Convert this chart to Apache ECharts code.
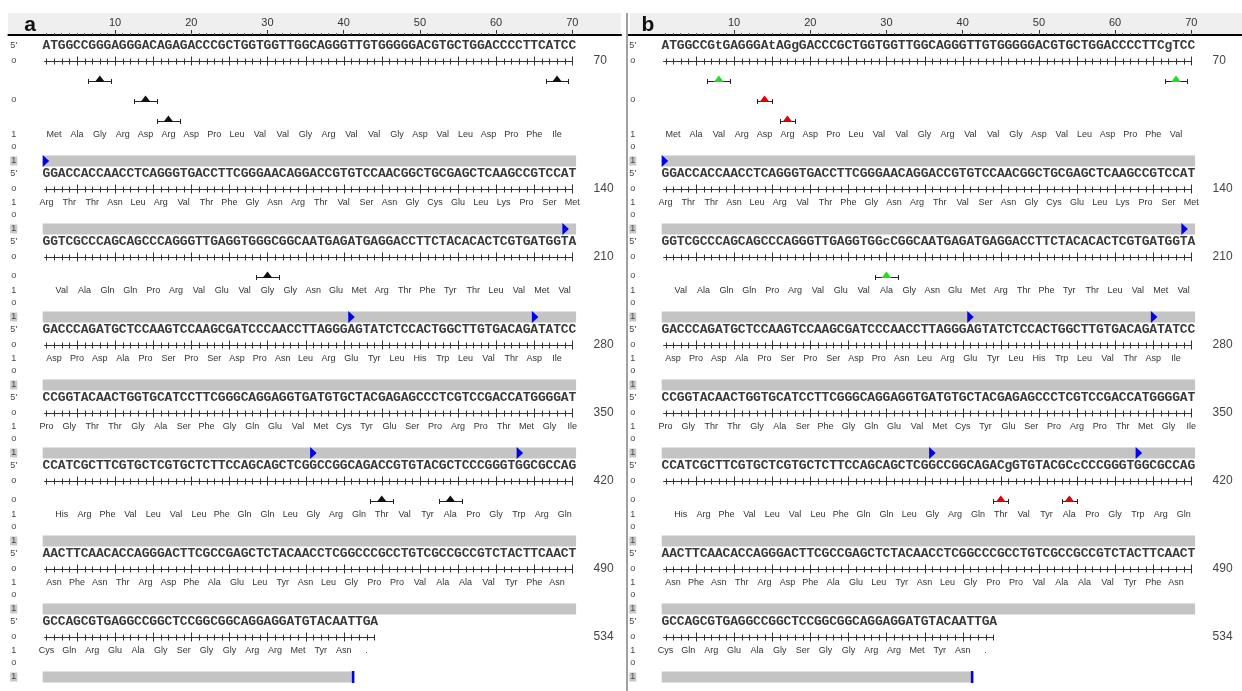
<!DOCTYPE html>
<html><head><meta charset="utf-8">
<script src="https://cdn.jsdelivr.net/npm/echarts@6/dist/echarts.min.js"></script>
<style>html,body{margin:0;padding:0;background:#fff}#c{width:1242px;height:691px}</style>
</head><body><div id="c"></div>
<script>
// ---------------- data ----------------
const headerTicks = [10, 20, 30, 40, 50, 60, 70];
const rowEnds = [70, 140, 210, 280, 350, 420, 490, 534];

const seqA = [
  "ATGGCCGGGAGGGACAGAGACCCGCTGGTGGTTGGCAGGGTTGTGGGGGACGTGCTGGACCCCTTCATCC",
  "GGACCACCAACCTCAGGGTGACCTTCGGGAACAGGACCGTGTCCAACGGCTGCGAGCTCAAGCCGTCCAT",
  "GGTCGCCCAGCAGCCCAGGGTTGAGGTGGGCGGCAATGAGATGAGGACCTTCTACACACTCGTGATGGTA",
  "GACCCAGATGCTCCAAGTCCAAGCGATCCCAACCTTAGGGAGTATCTCCACTGGCTTGTGACAGATATCC",
  "CCGGTACAACTGGTGCATCCTTCGGGCAGGAGGTGATGTGCTACGAGAGCCCTCGTCCGACCATGGGGAT",
  "CCATCGCTTCGTGCTCGTGCTCTTCCAGCAGCTCGGCCGGCAGACCGTGTACGCTCCCGGGTGGCGCCAG",
  "AACTTCAACACCAGGGACTTCGCCGAGCTCTACAACCTCGGCCCGCCTGTCGCCGCCGTCTACTTCAACT",
  "GCCAGCGTGAGGCCGGCTCCGGCGGCAGGAGGATGTACAATTGA"
];
const seqB = [
  "ATGGCCGtGAGGGAtAGgGACCCGCTGGTGGTTGGCAGGGTTGTGGGGGACGTGCTGGACCCCTTCgTCC",
  "GGACCACCAACCTCAGGGTGACCTTCGGGAACAGGACCGTGTCCAACGGCTGCGAGCTCAAGCCGTCCAT",
  "GGTCGCCCAGCAGCCCAGGGTTGAGGTGGcCGGCAATGAGATGAGGACCTTCTACACACTCGTGATGGTA",
  "GACCCAGATGCTCCAAGTCCAAGCGATCCCAACCTTAGGGAGTATCTCCACTGGCTTGTGACAGATATCC",
  "CCGGTACAACTGGTGCATCCTTCGGGCAGGAGGTGATGTGCTACGAGAGCCCTCGTCCGACCATGGGGAT",
  "CCATCGCTTCGTGCTCGTGCTCTTCCAGCAGCTCGGCCGGCAGACgGTGTACGCcCCCGGGTGGCGCCAG",
  "AACTTCAACACCAGGGACTTCGCCGAGCTCTACAACCTCGGCCCGCCTGTCGCCGCCGTCTACTTCAACT",
  "GCCAGCGTGAGGCCGGCTCCGGCGGCAGGAGGATGTACAATTGA"
];

const aaA = [
  "Met Ala Gly Arg Asp Arg Asp Pro Leu Val Val Gly Arg Val Val Gly Asp Val Leu Asp Pro Phe Ile",
  "Arg Thr Thr Asn Leu Arg Val Thr Phe Gly Asn Arg Thr Val Ser Asn Gly Cys Glu Leu Lys Pro Ser Met",
  "Val Ala Gln Gln Pro Arg Val Glu Val Gly Gly Asn Glu Met Arg Thr Phe Tyr Thr Leu Val Met Val",
  "Asp Pro Asp Ala Pro Ser Pro Ser Asp Pro Asn Leu Arg Glu Tyr Leu His Trp Leu Val Thr Asp Ile",
  "Pro Gly Thr Thr Gly Ala Ser Phe Gly Gln Glu Val Met Cys Tyr Glu Ser Pro Arg Pro Thr Met Gly Ile",
  "His Arg Phe Val Leu Val Leu Phe Gln Gln Leu Gly Arg Gln Thr Val Tyr Ala Pro Gly Trp Arg Gln",
  "Asn Phe Asn Thr Arg Asp Phe Ala Glu Leu Tyr Asn Leu Gly Pro Pro Val Ala Ala Val Tyr Phe Asn",
  "Cys Gln Arg Glu Ala Gly Ser Gly Gly Arg Arg Met Tyr Asn ."
];
const aaB = [
  "Met Ala Val Arg Asp Arg Asp Pro Leu Val Val Gly Arg Val Val Gly Asp Val Leu Asp Pro Phe Val",
  "Arg Thr Thr Asn Leu Arg Val Thr Phe Gly Asn Arg Thr Val Ser Asn Gly Cys Glu Leu Lys Pro Ser Met",
  "Val Ala Gln Gln Pro Arg Val Glu Val Ala Gly Asn Glu Met Arg Thr Phe Tyr Thr Leu Val Met Val",
  "Asp Pro Asp Ala Pro Ser Pro Ser Asp Pro Asn Leu Arg Glu Tyr Leu His Trp Leu Val Thr Asp Ile",
  "Pro Gly Thr Thr Gly Ala Ser Phe Gly Gln Glu Val Met Cys Tyr Glu Ser Pro Arg Pro Thr Met Gly Ile",
  "His Arg Phe Val Leu Val Leu Phe Gln Gln Leu Gly Arg Gln Thr Val Tyr Ala Pro Gly Trp Arg Gln",
  "Asn Phe Asn Thr Arg Asp Phe Ala Glu Leu Tyr Asn Leu Gly Pro Pro Val Ala Ala Val Tyr Phe Asn",
  "Cys Gln Arg Glu Ala Gly Ser Gly Gly Arg Arg Met Tyr Asn ."
];

// mutation markers: row, lane, codon-centre position within row
const mutRow  = [0, 0, 0, 0, 2, 5, 5];
const mutLane = [0, 0, 1, 2, 0, 0, 0];
const mutPos  = [8, 68, 14, 17, 30, 45, 54];
const mutKindB = ["nonsyn", "nonsyn", "syn", "syn", "nonsyn", "syn", "syn"];

// blue feature markers on the grey translation bars
const featRow = [0, 1, 2, 2, 4, 4];
const featPos = [0.5, 68.7, 40.6, 64.7, 35.6, 62.7];
const orfEndPos = 41.4; // end of grey bar in last row

// ---------------- layout (pixel constants) ----------------
const PX = 7.62;
const gutterPos = -3.3, numPos = 72.8;
const laneCount = rowEnds.map((_, r) => {
  let m = 0;
  mutRow.forEach((rr, i) => { if (rr === r) m = Math.max(m, mutLane[i] + 1); });
  return m;
});
const layout = [];
(function () {
  let y = 46;
  for (let r = 0; r < rowEnds.length; r++) {
    const L = laneCount[r];
    const o = { seq: y, ruler: y + 15, lanes: [] };
    for (let i = 0; i < L; i++) o.lanes.push(o.ruler + 19 + 20 * i);
    o.aa = o.ruler + 14 + 20 * L;
    o.o2 = o.aa + 12;
    o.bar = o.aa + 26;
    layout.push(o);
    y = o.aa + 39;
  }
})();

const rowStart = rowEnds.map((e, r) => (r === 0 ? 0 : rowEnds[r - 1]));

function makeRender(seqs, aas, isB) {
  return function (params, api) {
    const r = api.value(0);
    const Lo = layout[r];
    const seq = seqs[r];
    const n = seq.length;
    const ch = [];
    const X = p => api.coord([p, Lo.seq])[0];
    const Y = v => api.coord([1, v])[1];
    const small = { fontSize: 9, fontFamily: '"Liberation Sans", Arial, sans-serif', fill: '#444' };

    // sequence letters
    for (let i = 0; i < n; i++) {
      ch.push({ type: 'text', style: { text: seq[i], x: X(i + 1), y: Y(Lo.seq), align: 'center', verticalAlign: 'middle',
        fontSize: 13, fontWeight: 'bold', fontFamily: '"Liberation Mono","Courier New",monospace', fill: '#3a3a3a' } });
    }
    // ruler
    const ry = Math.round(Y(Lo.ruler)) + 0.5;
    ch.push({ type: 'line', shape: { x1: X(0.7), y1: ry, x2: Math.round(X(n)) + 0.5, y2: ry }, style: { stroke: '#333', lineWidth: 1 } });
    for (let i = 1; i <= n; i++) {
      const xx = Math.round(X(i)) + 0.5;
      const tall = (rowStart[r] + i) % 5 === 0;
      ch.push({ type: 'line', shape: { x1: xx, y1: ry - (tall ? 5 : 3), x2: xx, y2: ry + (tall ? 4 : 3) }, style: { stroke: '#333', lineWidth: 1 } });
    }
    // right-hand number
    ch.push({ type: 'text', style: { text: String(rowEnds[r]), x: X(numPos), y: Y(Lo.ruler), align: 'left', verticalAlign: 'middle',
      fontSize: 12, fontFamily: '"Liberation Sans", Arial, sans-serif', fill: '#444' } });

    // mutation markers
    mutRow.forEach((rr, i) => {
      if (rr !== r) return;
      const ly = Math.round(Y(Lo.lanes[mutLane[i]])) + 0.5;
      const cx = X(mutPos[i]);
      let col = '#111', hw = 1.5;
      if (isB) {
        if (mutKindB[i] === 'syn') { col = '#e00000'; hw = 1.0; } else { col = '#22dd22'; }
      }
      const by = ly + 1;
      const x1 = Math.round(X(mutPos[i] - hw)) + 0.5, x2 = Math.round(X(mutPos[i] + hw)) + 0.5;
      ch.push({ type: 'line', shape: { x1: x1, y1: by, x2: x2, y2: by }, style: { stroke: '#222', lineWidth: 1 } });
      ch.push({ type: 'line', shape: { x1: x1, y1: by - 2.5, x2: x1, y2: by + 2.5 }, style: { stroke: '#222', lineWidth: 1 } });
      ch.push({ type: 'line', shape: { x1: x2, y1: by - 2.5, x2: x2, y2: by + 2.5 }, style: { stroke: '#222', lineWidth: 1 } });
      ch.push({ type: 'polygon', shape: { points: [[cx - 5, by + 0.5], [cx + 5, by + 0.5], [cx, by - 6]] }, style: { fill: col } });
    });

    // amino acids
    const aa = aas[r].split(' ');
    let p0 = 1;
    while ((p0 + rowStart[r] + 1) % 3 !== 0) p0++;
    aa.forEach((a, k) => {
      ch.push({ type: 'text', style: Object.assign({ text: a, x: X(p0 + 3 * k), y: Y(Lo.aa), align: 'center', verticalAlign: 'middle' }, small, { fill: '#333' }) });
    });

    // grey translation bar
    const barEnd = (r === rowEnds.length - 1) ? orfEndPos : 70.5;
    const bt = Y(Lo.bar) - 5.5;
    ch.push({ type: 'rect', shape: { x: X(0.5), y: bt, width: X(barEnd) - X(0.5), height: 11 }, style: { fill: '#c4c4c4' } });
    featRow.forEach((fr, i) => {
      if (fr !== r) return;
      const fx = X(featPos[i]);
      ch.push({ type: 'polygon', shape: { points: [[fx, bt - 0.5], [fx + 6.5, bt + 5.5], [fx, bt + 11.5]] }, style: { fill: '#0000ee' } });
    });
    if (r === rowEnds.length - 1) {
      ch.push({ type: 'rect', shape: { x: X(orfEndPos) - 2.5, y: bt - 0.5, width: 2.5, height: 12 }, style: { fill: '#0000ee' } });
    }

    // left gutter
    const gx = X(gutterPos);
    const gut = (t, y) => ch.push({ type: 'text', style: Object.assign({ text: t, x: gx, y: Y(y), align: 'center', verticalAlign: 'middle' }, small) });
    gut("5'", Lo.seq);
    gut('o', Lo.ruler);
    if (Lo.lanes.length) gut('o', Lo.lanes[Math.floor((Lo.lanes.length - 1) / 2)]);
    gut('1', Lo.aa);
    gut('o', Lo.o2);
    ch.push({ type: 'rect', shape: { x: gx - 3.5, y: Y(Lo.bar) - 4.5, width: 7, height: 9 }, style: { fill: '#c8c8c8' } });
    gut('1', Lo.bar);

    return { type: 'group', children: ch };
  };
}

const perBase = [];
for (let i = 1; i <= 70; i++) perBase.push(i);

function xAxes(gridIndex, max) {
  return [
    { type: 'value', gridIndex: gridIndex, position: 'top', min: -4, max: max,
      axisLine: { show: true, lineStyle: { color: '#000', width: 2 } },
      axisTick: { show: true, customValues: headerTicks, length: 5, lineStyle: { color: '#333' } },
      axisLabel: { show: true, customValues: headerTicks, margin: 7, fontSize: 11, color: '#333', fontFamily: '"Liberation Sans", Arial, sans-serif' },
      splitLine: { show: false } },
    { type: 'value', gridIndex: gridIndex, position: 'top', min: -4, max: max,
      axisLine: { show: false },
      axisTick: { show: true, customValues: perBase, length: 2, lineStyle: { color: '#555' } },
      axisLabel: { show: false }, splitLine: { show: false } }
  ];
}
function yAxis(gridIndex) {
  return { type: 'value', gridIndex: gridIndex, min: 35, max: 691, inverse: true, show: false };
}

const rowsData = rowEnds.map((e, r) => [r, 0]);
const leftA = 46.5 - 5 * PX, leftB = 665.5 - 5 * PX;
const maxA = 76.4, maxB = -4 + (1242 - leftB) / PX;

const option = {
  animation: false,
  backgroundColor: '#fff',
  grid: [
    { left: leftA, top: 35, width: (maxA + 4) * PX, height: 656 },
    { left: leftB, top: 35, width: (maxB + 4) * PX, height: 656 }
  ],
  xAxis: [].concat(xAxes(0, maxA), xAxes(1, maxB)),
  yAxis: [yAxis(0), yAxis(1)],
  graphic: [
    { type: 'rect', z: -10, shape: { x: 8, y: 13, width: 613, height: 22 }, style: { fill: '#efefef' } },
    { type: 'rect', z: -10, shape: { x: 630, y: 13, width: 612, height: 22 }, style: { fill: '#efefef' } },
    { type: 'line', z: 5, shape: { x1: 627, y1: 13, x2: 627, y2: 691 }, style: { stroke: '#a0a0a0', lineWidth: 2 } },
    { type: 'text', z: 5, style: { text: 'a', x: 30, y: 25, align: 'center', verticalAlign: 'middle', fontSize: 21, fontWeight: 'bold', fontFamily: '"Liberation Sans", Arial, sans-serif', fill: '#111' } },
    { type: 'text', z: 5, style: { text: 'b', x: 648, y: 25, align: 'center', verticalAlign: 'middle', fontSize: 21, fontWeight: 'bold', fontFamily: '"Liberation Sans", Arial, sans-serif', fill: '#111' } }
  ],
  series: [
    { type: 'custom', xAxisIndex: 0, yAxisIndex: 0, data: rowsData, renderItem: makeRender(seqA, aaA, false), silent: true },
    { type: 'custom', xAxisIndex: 2, yAxisIndex: 1, data: rowsData, renderItem: makeRender(seqB, aaB, true), silent: true }
  ]
};
const chart = echarts.init(document.getElementById('c'));
chart.setOption(option);
</script>
</body></html>
